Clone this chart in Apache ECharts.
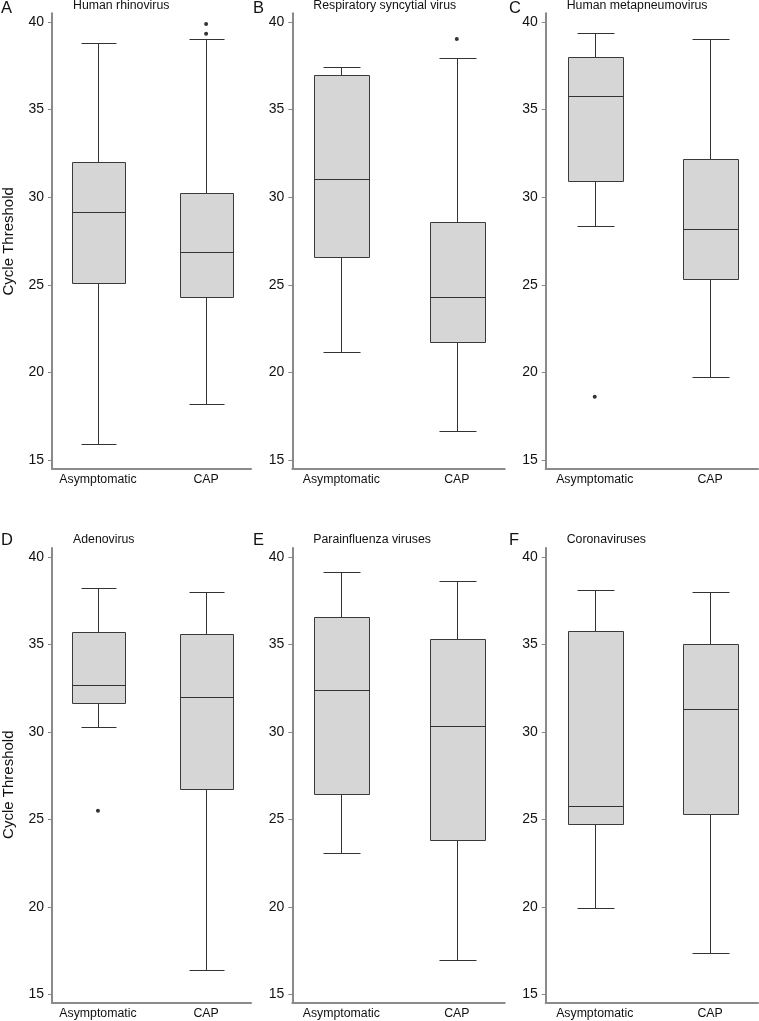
<!DOCTYPE html>
<html>
<head>
<meta charset="utf-8">
<script src="https://cdn.jsdelivr.net/npm/echarts@6/dist/echarts.min.js"></script>
<style>
  html, body { margin: 0; padding: 0; background: #fff; }
  #chart { width: 759px; height: 1021px; }
</style>
</head>
<body>
<div id="chart"></div>
<script>
// ---------------- DATA ----------------
const categories = ['Asymptomatic', 'CAP'];
const panelLetters = ['A', 'B', 'C', 'D', 'E', 'F'];
const panelTitles = ['Human rhinovirus', 'Respiratory syncytial virus', 'Human metapneumovirus',
                     'Adenovirus', 'Parainfluenza viruses', 'Coronaviruses'];
const yTicks = [15, 20, 25, 30, 35, 40];
const yAxisTitle = 'Cycle Threshold';

// box stats: [lower whisker, Q1, median, Q3, upper whisker]
const rhinoAsym = [15.93, 25.13, 29.14, 32.00, 38.78];
const rhinoCAP  = [18.21, 24.30, 26.85, 30.23, 39.05];
const rsvAsym   = [21.18, 26.56, 31.01, 36.99, 37.41];
const rsvCAP    = [16.67, 21.73, 24.28, 28.61, 37.93];
const hmpvAsym  = [28.36, 30.95, 35.76, 37.98, 39.35];
const hmpvCAP   = [19.72, 25.31, 28.16, 32.20, 39.05];
const adenoAsym = [30.25, 31.65, 32.70, 35.68, 38.20];
const adenoCAP  = [16.40, 26.71, 32.01, 35.57, 37.97];
const piAsym    = [23.07, 26.44, 32.36, 36.58, 39.11];
const piCAP     = [16.95, 23.84, 30.34, 35.28, 38.61];
const covAsym   = [19.94, 24.75, 25.78, 35.74, 38.10];
const covCAP    = [17.34, 25.32, 31.31, 35.00, 37.99];

// outliers: [Asymptomatic list, CAP list]
const rhinoOut = [[], [39.33, 39.89]];
const rsvOut   = [[], [39.03]];
const hmpvOut  = [[18.61], []];
const adenoOut = [[25.49], []];
const piOut    = [[], []];
const covOut   = [[], []];

const panelBoxes = [
  [rhinoAsym, rhinoCAP], [rsvAsym, rsvCAP], [hmpvAsym, hmpvCAP],
  [adenoAsym, adenoCAP], [piAsym, piCAP], [covAsym, covCAP]
];
const panelOutliers = [rhinoOut, rsvOut, hmpvOut, adenoOut, piOut, covOut];

// ---------------- LAYOUT / STYLE ----------------
const FONT = "'Liberation Sans', Arial, Helvetica, sans-serif";
const grids = [
  { left: 52,    top: 13.2, width: 199,   height: 455.6 },
  { left: 292.3, top: 13.2, width: 212.4, height: 455.6 },
  { left: 545.7, top: 13.2, width: 212.3, height: 455.6 },
  { left: 52,    top: 548,  width: 199,   height: 455 },
  { left: 292.3, top: 548,  width: 212.4, height: 455 },
  { left: 545.7, top: 548,  width: 212.3, height: 455 }
];
const BOX_W = 0.485, CAP_W = 0.32;
const AXIS_COLOR = '#8a8a8a';
const LINE_COLOR = '#333';
const BOX_FILL = '#d6d6d6';

function snap(v) { return Math.round(v) + 0.5; }

function renderBox(params, api) {
  const x = api.value(0);
  const pLow = api.coord([x, api.value(1)]);
  const pQ1 = api.coord([x, api.value(2)]);
  const pMed = api.coord([x, api.value(3)]);
  const pQ3 = api.coord([x, api.value(4)]);
  const pHigh = api.coord([x, api.value(5)]);
  const bw = api.size([BOX_W, 0])[0];
  const cw = api.size([CAP_W, 0])[0];
  const cx = snap(pMed[0]);
  const yl = snap(pLow[1]), y1 = snap(pQ1[1]), ym = snap(pMed[1]), y3 = snap(pQ3[1]), yh = snap(pHigh[1]);
  const bx0 = snap(cx - bw / 2), bx1 = snap(cx + bw / 2);
  const ls = { stroke: LINE_COLOR, lineWidth: 1 };
  return {
    type: 'group',
    children: [
      { type: 'line', shape: { x1: cx, y1: yh, x2: cx, y2: y3 }, style: ls },
      { type: 'line', shape: { x1: cx, y1: y1, x2: cx, y2: yl }, style: ls },
      { type: 'line', shape: { x1: snap(cx - cw / 2), y1: yh, x2: snap(cx + cw / 2), y2: yh }, style: ls },
      { type: 'line', shape: { x1: snap(cx - cw / 2), y1: yl, x2: snap(cx + cw / 2), y2: yl }, style: ls },
      { type: 'rect', shape: { x: bx0, y: y3, width: bx1 - bx0, height: y1 - y3 },
        style: { fill: BOX_FILL, stroke: '#3a3a3a', lineWidth: 1 } },
      { type: 'line', shape: { x1: bx0, y1: ym, x2: bx1, y2: ym }, style: ls }
    ]
  };
}

const xAxes = [], yAxes = [], series = [], graphics = [];
grids.forEach((g, i) => {
  xAxes.push({
    type: 'value', gridIndex: i, min: 0.575, max: 2.415,
    splitLine: { show: false },
    axisTick: { show: false },
    axisLine: { show: true, onZero: false, lineStyle: { color: AXIS_COLOR, width: 2 } },
    axisLabel: {
      customValues: [1, 2],
      formatter: (v) => categories[Math.round(v) - 1] || '',
      color: '#111', fontFamily: FONT, fontSize: 12.3, margin: 5
    }
  });
  yAxes.push({
    type: 'value', gridIndex: i, min: 14.5, max: 40.5,
    splitLine: { show: false },
    axisLine: { show: true, onZero: false, lineStyle: { color: AXIS_COLOR, width: 2 } },
    axisTick: { show: true, customValues: yTicks, length: 4, lineStyle: { color: AXIS_COLOR, width: 1 } },
    axisLabel: { customValues: yTicks, color: '#111', fontFamily: FONT, fontSize: 14, margin: 8 }
  });
  const boxData = panelBoxes[i].map((s, k) => [k + 1].concat(s));
  series.push({
    type: 'custom', xAxisIndex: i, yAxisIndex: i,
    renderItem: renderBox, clip: false, silent: true,
    encode: { x: 0, y: [1, 2, 3, 4, 5] },
    data: boxData
  });
  const outData = [];
  panelOutliers[i].forEach((list, k) => list.forEach(v => outData.push([k + 1, v])));
  series.push({
    type: 'scatter', xAxisIndex: i, yAxisIndex: i, silent: true,
    symbol: 'circle', symbolSize: 4, itemStyle: { color: '#000' },
    data: outData
  });
  const row = i < 3 ? 0 : 1;
  const col = i % 3;
  const letterX = [1, 253, 509][col];
  graphics.push({
    type: 'text', left: letterX, top: (row === 0 ? 8.7 : 541) - 9,
    style: { text: panelLetters[i], font: '16.5px ' + FONT, fill: '#111' }
  });
  graphics.push({
    type: 'text', x: g.left + 21, y: row === 0 ? 5.2 : 539.5,
    style: { text: panelTitles[i], font: '12.3px ' + FONT, fill: '#111',
             textVerticalAlign: 'middle', textAlign: 'left' }
  });
});
// y axis titles
[241.3, 784.7].forEach(cy => {
  graphics.push({
    type: 'text', x: 9.2, y: cy, rotation: Math.PI / 2,
    style: { text: yAxisTitle, font: '15px ' + FONT, fill: '#111',
             textAlign: 'center', textVerticalAlign: 'middle' }
  });
});

const chart = echarts.init(document.getElementById('chart'), null, { renderer: 'canvas' });
chart.setOption({
  backgroundColor: '#fff',
  animation: false,
  grid: grids.map(g => Object.assign({ containLabel: false }, g)),
  xAxis: xAxes,
  yAxis: yAxes,
  series: series,
  graphic: graphics
});
</script>
</body>
</html>
